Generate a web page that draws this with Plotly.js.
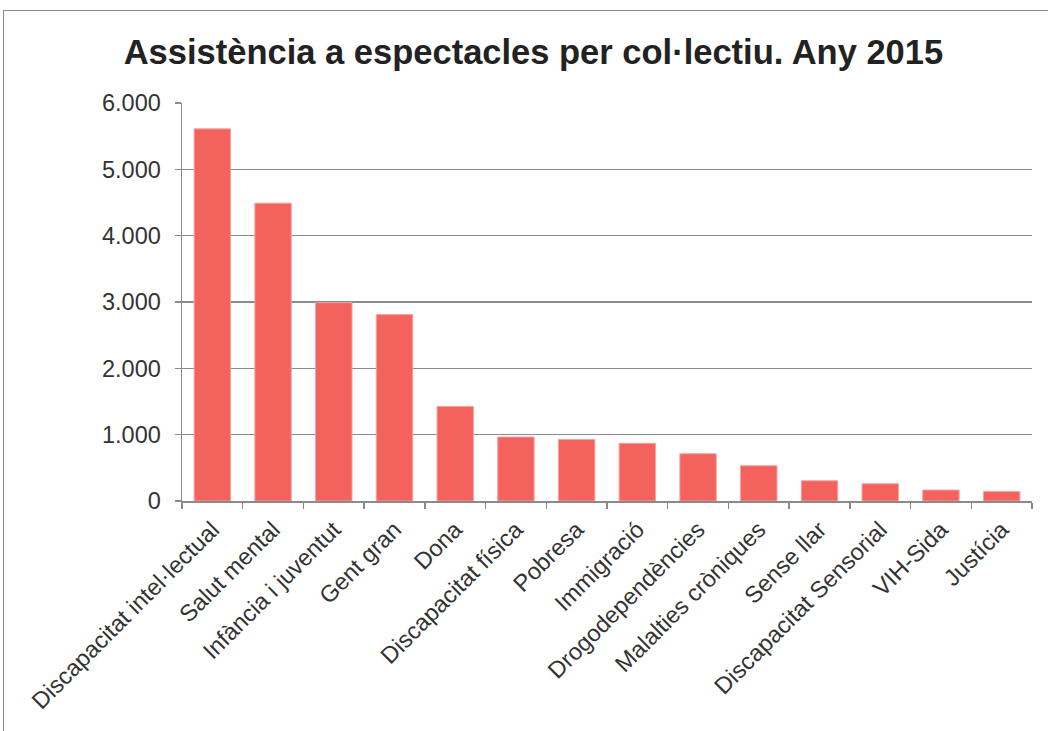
<!DOCTYPE html>
<html>
<head>
<meta charset="utf-8">
<script src="https://cdn.plot.ly/plotly-3.0.1.min.js"></script>
<style>
  html, body { margin: 0; padding: 0; background: #fff; }
  #frame { position: absolute; left: 3px; top: 10px; width: 1060px; height: 740px; border: 1px solid #8a8a8a; box-sizing: border-box; pointer-events: none; z-index: 10; }
  #chart { width: 1048px; height: 731px; }
</style>
</head>
<body>
<div id="frame"></div>
<div id="chart"></div>
<script>
const categories = [
  "Discapacitat intel·lectual", "Salut mental", "Infància i juventut", "Gent gran",
  "Dona", "Discapacitat física", "Pobresa", "Immigració", "Drogodependències",
  "Malalties cròniques", "Sense llar", "Discapacitat Sensorial", "VIH-Sida", "Justícia"
];
const assistencia = [5610, 4490, 2990, 2810, 1425, 965, 928, 870, 712, 532, 305, 260, 165, 145];
const yTicks = [0, 1000, 2000, 3000, 4000, 5000, 6000];
const titleText = "Assistència a espectacles per col·lectiu. Any 2015";

const data = [{
  type: "bar",
  x: categories,
  y: assistencia,
  marker: { color: "#F4625D", line: { color: "#F7A3A0", width: 1 } },
  hoverinfo: "x+y"
}];

const layout = {
  width: 1048, height: 731,
  margin: { l: 182, r: 16, t: 103, b: 230 },
  paper_bgcolor: "#ffffff",
  plot_bgcolor: "#ffffff",
  separators: ",.",
  font: { family: "Arial, 'Liberation Sans', sans-serif", color: "#333333" },
  title: {
    text: "<b>" + titleText + "</b>",
    font: { size: 34.5, color: "#222222", family: "Arial, 'Liberation Sans', sans-serif" },
    x: 0.509, xanchor: "center", xref: "container",
    y: 51, yref: "container", yanchor: "middle"
  },
  bargap: 0.4,
  showlegend: false,
  xaxis: {
    type: "category",
    tickangle: -45,
    tickson: "boundaries",
    ticks: "outside", ticklen: 6, tickcolor: "#8a8a8a", tickwidth: 1.5,
    showline: true, linecolor: "#8a8a8a", linewidth: 1.5,
    showgrid: false,
    ticklabelstandoff: 4,
    tickfont: { size: 23.5, color: "#333333" },
    automargin: false
  },
  yaxis: {
    range: [0, 6000],
    tickvals: yTicks,
    tickformat: ",d",
    ticks: "outside", ticklen: 6, tickcolor: "#8a8a8a", tickwidth: 1.5,
    showline: true, linecolor: "#8a8a8a", linewidth: 1.5,
    showgrid: true, gridcolor: "#8a8a8a", gridwidth: 1.5,
    zeroline: false,
    ticklabelstandoff: 9,
    tickfont: { size: 23.5, color: "#333333" },
    automargin: false
  }
};

Plotly.newPlot("chart", data, layout, { displayModeBar: false, staticPlot: true });
</script>
</body>
</html>
